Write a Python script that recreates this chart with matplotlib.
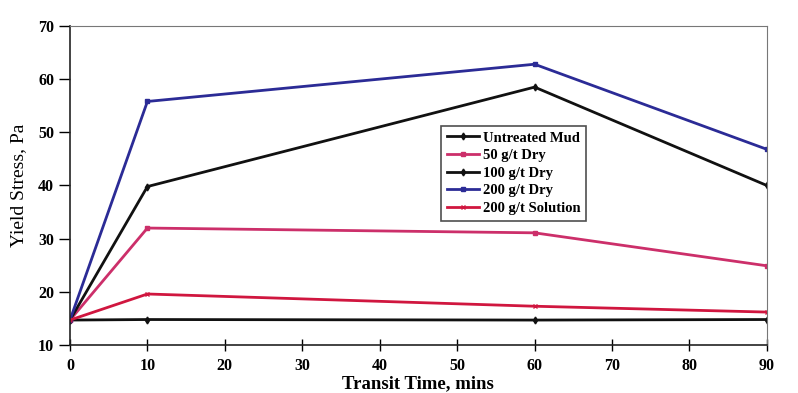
import numpy as np
import matplotlib
matplotlib.use("Agg")
import matplotlib.pyplot as plt

# 数据
transit_time = [0, 10, 60, 90]
untreated = [14.7, 14.8, 14.7, 14.8]
dry_50 = [14.7, 32.0, 31.1, 24.9]
dry_100 = [14.7, 39.8, 58.5, 40.0]
dry_200 = [14.7, 55.8, 62.8, 46.8]
solution_200 = [14.7, 19.6, 17.3, 16.2]

labels = ["Untreated Mud", "50 g/t Dry", "100 g/t Dry", "200 g/t Dry", "200 g/t Solution"]
colors = ["#111111", "#cc2f6a", "#111111", "#2b2b96", "#d0163f"]
markers = ["d", "s", "d", "s", "x"]
xticks = np.arange(0, 100, 10)
yticks = np.arange(10, 80, 10)

plt.rcParams['font.family'] = ['Liberation Serif', 'DejaVu Serif']

fig, ax = plt.subplots(figsize=(7.98, 3.93), dpi=100, facecolor='white')
fig.subplots_adjust(left=0.0877, right=0.961, top=0.934, bottom=0.122)

series = [untreated, dry_50, dry_100, dry_200, solution_200]
for vals, lab, c, m in zip(series, labels, colors, markers):
    ax.plot(transit_time, vals, color=c, lw=2.0, marker=m, ms=3.5, mew=1.0, label=lab)

ax.set_xlim(0, 90)
ax.set_ylim(10, 70)
ax.set_xticks(xticks)
ax.set_yticks(yticks)
ax.tick_params(axis='x', direction='inout', length=8, width=1, labelsize=11.5, pad=5)
ax.tick_params(axis='y', direction='out', length=8, width=1, labelsize=11.5)
for t in ax.get_xticklabels() + ax.get_yticklabels():
    t.set_fontweight('bold')
for s in ['top', 'right']:
    ax.spines[s].set_color('#777777')
for s in ['left', 'bottom']:
    ax.spines[s].set_color('#222222')
    ax.spines[s].set_linewidth(1.2)

ax.set_xlabel("Transit Time, mins", fontsize=13.5, fontweight='bold', labelpad=1)
ax.set_ylabel("Yield Stress, Pa", fontsize=14, labelpad=8)

leg = ax.legend(loc='upper left', bbox_to_anchor=(0.532, 0.688), frameon=True, fancybox=False,
                edgecolor='#222222', handlelength=2.2, handletextpad=0.3, borderpad=0.4,
                labelspacing=0.3, borderaxespad=0, prop={'weight': 'bold', 'size': 10.5})
leg.get_frame().set_linewidth(1.2)

plt.savefig("out.png", dpi=100, facecolor='white')
